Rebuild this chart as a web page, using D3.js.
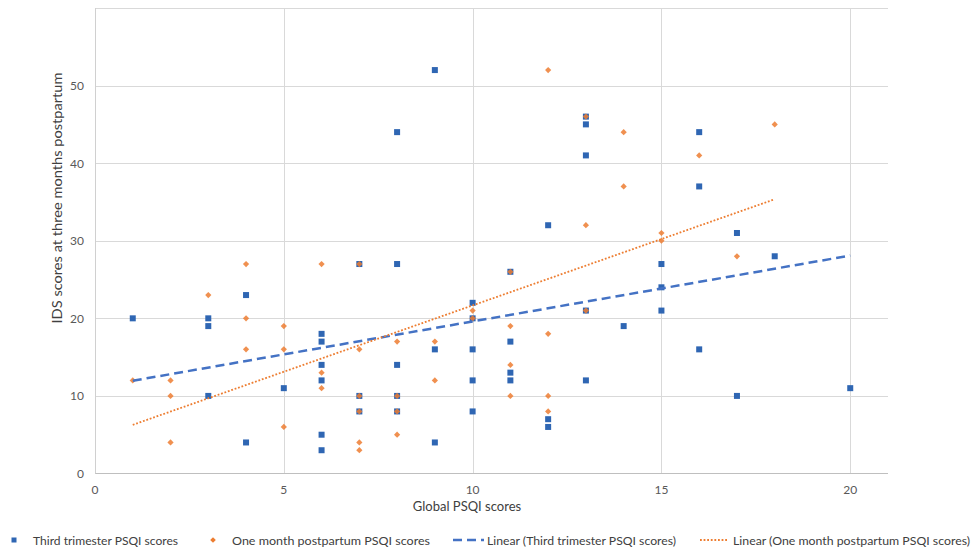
<!DOCTYPE html>
<html><head><meta charset="utf-8">
<script src="https://cdn.jsdelivr.net/npm/d3@7"></script>
<style>body{margin:0;background:#fff}svg{display:block}text{font-family:Lato,"Open Sans",sans-serif;fill:#404040}</style>
</head><body><svg id="c" width="972" height="549"></svg>
<script>
// Third trimester PSQI scores (x = global PSQI, y = IDS at 3 months)
const thirdX = [1,3,3,3,4,4,5, 6,6,6,6,6,6, 7,7,7, 8,8,8,8,8, 9,9,9, 10,10,10,10,10, 11,11,11,11, 12,12,12, 13,13,13,13,13, 14, 15,15,15, 16,16,16, 17,17, 18, 20];
const thirdY = [20,20,19,10,23,4,11, 18,17,14,12,5,3, 27,10,8, 44,27,14,10,8, 52,16,4, 22,20,16,12,8, 26,17,13,12, 32,7,6, 46,45,41,21,12, 19, 27,24,21, 44,37,16, 31,10, 28, 11];
// One month postpartum PSQI scores
const oneX = [1,2,2,2, 3, 4,4,4, 5,5,5, 6,6,6, 7,7,7,7,7,7, 8,8,8,8, 9,9, 10,10, 11,11,11,11, 12,12,12,12, 13,13,13, 14,14, 15,15, 16, 17, 18];
const oneY = [12,12,10,4, 23, 27,20,16, 19,16,6, 27,13,11, 27,16,10,8,4,3, 17,10,8,5, 17,12, 21,20, 26,19,14,10, 52,18,10,8, 46,32,21, 44,37, 31,30, 41, 28, 45];
const xTicks = [0,5,10,15,20];
const yTicks = [0,10,20,30,40,50];
const yGrid = [10,20,30,40,50,60];
const seriesNames = ["Third trimester PSQI scores","One month postpartum PSQI scores","Linear (Third trimester PSQI scores)","Linear (One month postpartum PSQI scores)"];
const axisTitles = {x:"Global PSQI scores", y:"IDS scores at three months postpartum"};

const blue = "#2f66b3", orange = "#ED7D31", blueLine = "#4472C4";
const svg = d3.select("#c");
const x = d3.scaleLinear().domain([0,21]).range([95,888]);
const y = d3.scaleLinear().domain([0,60]).range([473.5,8]);

// grid
svg.append("g").selectAll("line").data(yGrid).join("line")
  .attr("x1",x(0)).attr("x2",x(21)).attr("y1",d=>Math.round(y(d))+0.5).attr("y2",d=>Math.round(y(d))+0.5)
  .attr("stroke","#d9d9d9").attr("stroke-width",1);
svg.append("g").selectAll("line").data(xTicks.filter(d=>d>0)).join("line")
  .attr("y1",y(0)).attr("y2",y(60)).attr("x1",d=>Math.round(x(d))+0.5).attr("x2",d=>Math.round(x(d))+0.5)
  .attr("stroke","#d9d9d9").attr("stroke-width",1);
// axes lines
svg.append("line").attr("x1",x(0)).attr("x2",x(21)).attr("y1",473.5).attr("y2",473.5).attr("stroke","#bfbfbf");
svg.append("line").attr("x1",95.5).attr("x2",95.5).attr("y1",y(0)).attr("y2",y(60)).attr("stroke","#d0d0d0");

// tick labels
svg.append("g").selectAll("text").data(yTicks).join("text")
  .attr("x",84).attr("y",d=>y(d)+4.5).attr("text-anchor","end").attr("font-size",12).style("fill","#595959").text(d=>d);
svg.append("g").selectAll("text").data(xTicks).join("text")
  .attr("x",d=>x(d)).attr("y",494).attr("text-anchor","middle").attr("font-size",12).style("fill","#595959").text(d=>d);

// axis titles
svg.append("text").attr("x",467).attr("y",511).attr("text-anchor","middle").attr("font-size",13)
  .text(axisTitles.x);
svg.append("text").attr("transform","translate(62,198) rotate(-90)").attr("text-anchor","middle").attr("font-size",13)
  .attr("textLength",251).attr("lengthAdjust","spacingAndGlyphs").text(axisTitles.y);

// regression
function fit(xs,ys){
  const mx=d3.mean(xs), my=d3.mean(ys);
  let sxy=0,sxx=0; xs.forEach((v,i)=>{sxy+=(v-mx)*(ys[i]-my);sxx+=(v-mx)*(v-mx);});
  const b=sxy/sxx, a=my-b*mx; const x0=d3.min(xs), x1=d3.max(xs);
  return [[x0,a+b*x0],[x1,a+b*x1]];
}
const line = d3.line().x(d=>x(d[0])).y(d=>y(d[1]));

const tPts = thirdX.map((v,i)=>[v,thirdY[i]]);
const oPts = oneX.map((v,i)=>[v,oneY[i]]);
svg.append("g").selectAll("rect").data(tPts).join("rect")
  .attr("x",d=>x(d[0])-3).attr("y",d=>y(d[1])-3).attr("width",6).attr("height",6).attr("fill",blue);
svg.append("g").selectAll("rect").data(oPts).join("rect")
  .attr("x",-2.2).attr("y",-2.2).attr("width",4.4).attr("height",4.4)
  .attr("transform",d=>`translate(${x(d[0])},${y(d[1])}) rotate(45)`).attr("fill",orange).attr("opacity",0.85);

// trend lines
svg.append("path").attr("d",line(fit(thirdX,thirdY))).attr("fill","none").attr("stroke",blueLine)
  .attr("stroke-width",2.5).attr("stroke-dasharray","9,5");
svg.append("path").attr("d",line(fit(oneX,oneY))).attr("fill","none").attr("stroke",orange)
  .attr("stroke-width",1.8).attr("stroke-dasharray","1.8,1.8");

// legend
const ly = 540;
const lg = svg.append("g");
lg.append("rect").attr("x",11.5).attr("y",ly-2.5).attr("width",5).attr("height",5).attr("fill",blue);
lg.append("rect").attr("x",-2).attr("y",-2).attr("width",4).attr("height",4).attr("transform",`translate(213,${ly}) rotate(45)`).attr("fill",orange);
lg.append("line").attr("x1",453).attr("x2",484).attr("y1",ly).attr("y2",ly).attr("stroke",blueLine).attr("stroke-width",2.5).attr("stroke-dasharray","9,5");
lg.append("line").attr("x1",700).attr("x2",727).attr("y1",ly).attr("y2",ly).attr("stroke",orange).attr("stroke-width",1.8).attr("stroke-dasharray","1.8,1.8");
const legX = [33,232,487,733], legW = [145,198,189,237];
lg.selectAll("text").data(seriesNames).join("text")
  .attr("x",(d,i)=>legX[i]).attr("y",ly+4.5).attr("font-size",12)
  .attr("textLength",(d,i)=>legW[i]).attr("lengthAdjust","spacingAndGlyphs").text(d=>d);
</script></body></html>
